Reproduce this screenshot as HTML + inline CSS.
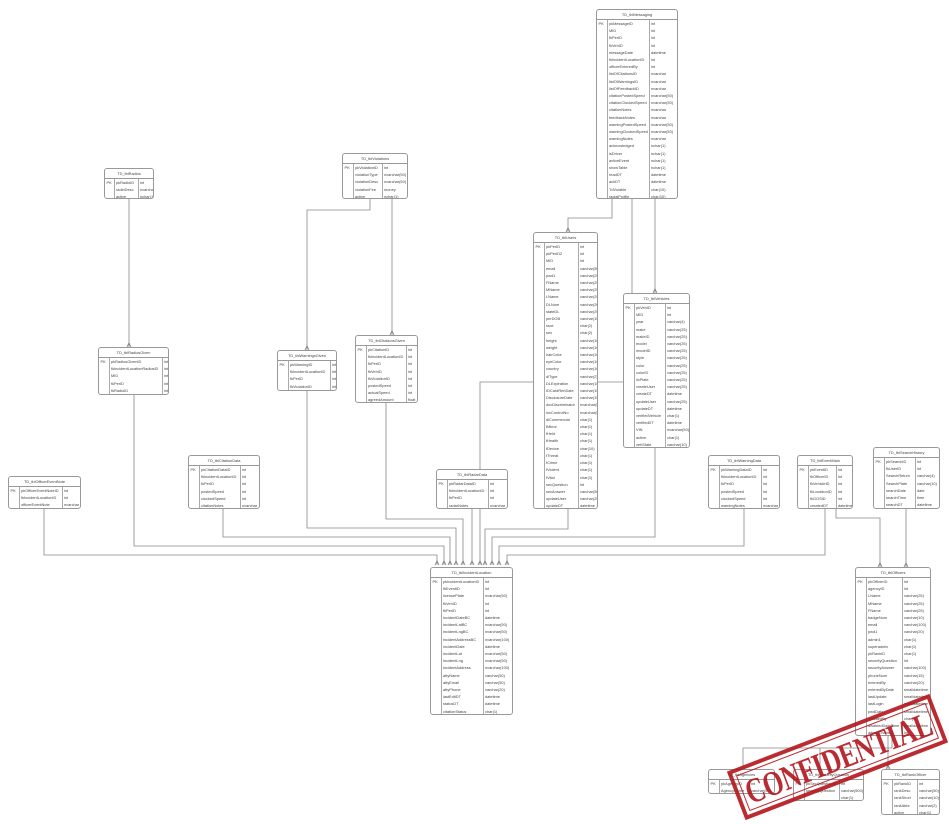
<!DOCTYPE html>
<html><head><meta charset="utf-8"><style>
body{margin:0;width:949px;height:824px;background:#fff;position:relative;overflow:hidden;font-family:"Liberation Sans",sans-serif}
.t{position:absolute;border:1px solid #999;border-radius:3px;background:#fff;color:#444;font-size:3.9px;box-sizing:border-box;overflow:hidden}
.h{height:9px;line-height:9px;text-align:center;border-bottom:1px solid #999}
.t table{border-collapse:collapse;width:100%;table-layout:fixed}
.t td{height:7.2px;line-height:7.2px;padding:0 0 0 1.5px;white-space:nowrap;overflow:hidden;vertical-align:middle}
.t td.pk{vertical-align:top;border-right:1px solid #aaa}
.t td.n{border-right:1px solid #aaa}
svg{position:absolute;left:0;top:0}
.stamp{position:absolute;left:729px;top:731px;width:217px;height:52px;transform:rotate(-21deg);border:4px solid #b3161c;color:#b3161c;box-sizing:border-box;opacity:.9}
.stamp div{position:absolute;left:3px;top:3px;right:3px;bottom:3px;border:1.5px solid #b3161c;white-space:nowrap}
.stamp span{position:absolute;left:50%;top:0;line-height:40px;font:bold 35px/40px "Liberation Serif",serif;transform:translateX(-50%) scaleX(0.74);letter-spacing:-0.5px;white-space:nowrap}
</style></head><body>
<svg width="949" height="824" fill="none" stroke="#888" stroke-width="0.8">
<path d="M612 198V218H568V232M632 198V382H480V565M655 198V293M568 508V529H485V565M655 447V537H492V565M744 508V546H499V565M825 508V555H507V565M129 198V347M370 198V210H307V350M392 198V335M134 394V546H444V565M44 508V555H437V565M223 508V537H450V565M307 390V528H456V565M386 402V519H463V565M472 508V565M836 508V518H880V567M906 508V567M888 735V769M743 769V748H892V735M820 748V769"/>
<g stroke="#777"><path d="M435 565l2-4 2 4M442 565l2-4 2 4M448 565l2-4 2 4M454 565l2-4 2 4M461 565l2-4 2 4M470 565l2-4 2 4M478 565l2-4 2 4M483 565l2-4 2 4M490 565l2-4 2 4M497 565l2-4 2 4M505 565l2-4 2 4M566 232l2-4 2 4M653 293l2-4 2 4M127 347l2-4 2 4M305 350l2-4 2 4M390 335l2-4 2 4M878 567l2-4 2 4M904 567l2-4 2 4M886 769l2-4 2 4"/></g>
</svg>

<div class="t" style="left:596px;top:9px;width:82px;height:190px"><div class="h">TD_tblMessaging</div><table><col style="width:10px"><col style="width:42px"><col>
<tr><td class="pk" rowspan="25">PK</td><td class="n">pkMessageID</td><td>int</td></tr>
<tr><td class="n">MID</td><td>int</td></tr><tr><td class="n">fkPerID</td><td>int</td></tr><tr><td class="n">fkVehID</td><td>int</td></tr>
<tr><td class="n">messageDate</td><td>datetime</td></tr><tr><td class="n">fkIncidentLocationID</td><td>int</td></tr><tr><td class="n">officerEnteredBy</td><td>int</td></tr>
<tr><td class="n">listOfCitationsID</td><td>nvarchar</td></tr><tr><td class="n">listOfWarningsID</td><td>nvarchar</td></tr><tr><td class="n">listOfFeedbackID</td><td>nvarchar</td></tr>
<tr><td class="n">citationPostedSpeed</td><td>nvarchar(50)</td></tr><tr><td class="n">citationClockedSpeed</td><td>nvarchar(50)</td></tr><tr><td class="n">citationNotes</td><td>nvarchar</td></tr>
<tr><td class="n">feedbackNotes</td><td>nvarchar</td></tr><tr><td class="n">warningPostedSpeed</td><td>nvarchar(50)</td></tr><tr><td class="n">warningClockedSpeed</td><td>nvarchar(50)</td></tr>
<tr><td class="n">warningNotes</td><td>nvarchar</td></tr><tr><td class="n">acknowledged</td><td>nchar(1)</td></tr><tr><td class="n">isDriver</td><td>nchar(1)</td></tr>
<tr><td class="n">activeEvent</td><td>nchar(1)</td></tr><tr><td class="n">showTable</td><td>nchar(1)</td></tr><tr><td class="n">readDT</td><td>datetime</td></tr>
<tr><td class="n">ackDT</td><td>datetime</td></tr><tr><td class="n">TdVoiable</td><td>char(10)</td></tr><tr><td class="n">racialProfile</td><td>char(10)</td></tr></table></div>

<div class="t" style="left:104px;top:168px;width:50px;height:31px"><div class="h">TD_tblRadios</div><table><col style="width:9px"><col style="width:24px"><col>
<tr><td class="pk" rowspan="3">PK</td><td class="n">pkRadioID</td><td>int</td></tr><tr><td class="n">radioDesc</td><td>nvarchar(50)</td></tr><tr><td class="n">active</td><td>nchar(1)</td></tr></table></div>

<div class="t" style="left:342px;top:153px;width:66px;height:46px"><div class="h">TD_tblViolations</div><table><col style="width:10px"><col style="width:29px"><col>
<tr><td class="pk" rowspan="5">PK</td><td class="n">pkViolationID</td><td>int</td></tr><tr><td class="n">violationType</td><td>nvarchar(50)</td></tr><tr><td class="n">violationDesc</td><td>nvarchar(50)</td></tr><tr><td class="n">violationFee</td><td>money</td></tr><tr><td class="n">active</td><td>nchar(1)</td></tr></table></div>

<div class="t" style="left:533px;top:232px;width:65px;height:277px"><div class="h">TD_tblUsers</div><table><col style="width:10px"><col style="width:34px"><col>
<tr><td class="pk" rowspan="37">PK</td><td class="n">pkPerID</td><td>int</td></tr>
<tr><td class="n">pkPerID2</td><td>int</td></tr><tr><td class="n">MID</td><td>int</td></tr><tr><td class="n">email</td><td>varchar(50)</td></tr><tr><td class="n">pwd1</td><td>varchar(250)</td></tr>
<tr><td class="n">FName</td><td>varchar(25)</td></tr><tr><td class="n">MName</td><td>varchar(25)</td></tr><tr><td class="n">LName</td><td>varchar(25)</td></tr><tr><td class="n">DLNum</td><td>varchar(20)</td></tr>
<tr><td class="n">stateDL</td><td>varchar(25)</td></tr><tr><td class="n">perDOB</td><td>varchar(15)</td></tr><tr><td class="n">race</td><td>char(2)</td></tr><tr><td class="n">sex</td><td>char(2)</td></tr>
<tr><td class="n">height</td><td>varchar(10)</td></tr><tr><td class="n">weight</td><td>varchar(10)</td></tr><tr><td class="n">hairColor</td><td>varchar(10)</td></tr><tr><td class="n">eyeColor</td><td>varchar(10)</td></tr>
<tr><td class="n">country</td><td>varchar(10)</td></tr><tr><td class="n">dlType</td><td>varchar(2)</td></tr><tr><td class="n">DLExpiration</td><td>varchar(15)</td></tr><tr><td class="n">IDCardRenDate</td><td>varchar(15)</td></tr>
<tr><td class="n">DisclosureDate</td><td>varchar(15)</td></tr><tr><td class="n">docDiscriminator</td><td>nvarchar(50)</td></tr><tr><td class="n">invControlNo</td><td>nvarchar(50)</td></tr><tr><td class="n">dlCommercial</td><td>char(1)</td></tr>
<tr><td class="n">fMinor</td><td>char(1)</td></tr><tr><td class="n">fHeld</td><td>char(1)</td></tr><tr><td class="n">fHealth</td><td>char(1)</td></tr><tr><td class="n">fDevice</td><td>char(10)</td></tr>
<tr><td class="n">fThreat</td><td>char(1)</td></tr><tr><td class="n">fCrime</td><td>char(1)</td></tr><tr><td class="n">fViolent</td><td>char(1)</td></tr><tr><td class="n">fVital</td><td>char(1)</td></tr>
<tr><td class="n">secQuestion</td><td>int</td></tr><tr><td class="n">secAnswer</td><td>varchar(50)</td></tr><tr><td class="n">updateUser</td><td>varchar(25)</td></tr><tr><td class="n">updateDT</td><td>datetime</td></tr></table></div>

<div class="t" style="left:623px;top:293px;width:67px;height:155px"><div class="h">TD_tblVehicles</div><table><col style="width:10px"><col style="width:31px"><col>
<tr><td class="pk" rowspan="20">PK</td><td class="n">pkVehID</td><td>int</td></tr>
<tr><td class="n">MID</td><td>int</td></tr><tr><td class="n">year</td><td>varchar(4)</td></tr><tr><td class="n">make</td><td>varchar(25)</td></tr><tr><td class="n">makeID</td><td>varchar(25)</td></tr>
<tr><td class="n">model</td><td>varchar(25)</td></tr><tr><td class="n">modelID</td><td>varchar(25)</td></tr><tr><td class="n">style</td><td>varchar(25)</td></tr><tr><td class="n">color</td><td>varchar(25)</td></tr>
<tr><td class="n">colorID</td><td>varchar(25)</td></tr><tr><td class="n">licPlate</td><td>varchar(25)</td></tr><tr><td class="n">createUser</td><td>varchar(25)</td></tr><tr><td class="n">createDT</td><td>datetime</td></tr>
<tr><td class="n">updateUser</td><td>varchar(25)</td></tr><tr><td class="n">updateDT</td><td>datetime</td></tr><tr><td class="n">verifiedVehicle</td><td>char(1)</td></tr><tr><td class="n">verifiedDT</td><td>datetime</td></tr>
<tr><td class="n">VIN</td><td>nvarchar(50)</td></tr><tr><td class="n">active</td><td>char(1)</td></tr><tr><td class="n">vehState</td><td>varchar(10)</td></tr></table></div>

<div class="t" style="left:98px;top:347px;width:71px;height:48px"><div class="h">TD_tblRadiosGiven</div><table><col style="width:10px"><col style="width:53px"><col>
<tr><td class="pk" rowspan="5">PK</td><td class="n">pkRadiosGivenID</td><td>int</td></tr><tr><td class="n">fkIncidentLocationRadiosID</td><td>int</td></tr><tr><td class="n">MID</td><td>int</td></tr><tr><td class="n">fkPerID</td><td>int</td></tr><tr><td class="n">fkRadioID</td><td>int</td></tr></table></div>

<div class="t" style="left:277px;top:350px;width:60px;height:41px"><div class="h">TD_tblWarningsGiven</div><table><col style="width:10px"><col style="width:42px"><col>
<tr><td class="pk" rowspan="4">PK</td><td class="n">pkWarningID</td><td>int</td></tr><tr><td class="n">fkIncidentLocationID</td><td>int</td></tr><tr><td class="n">fkPerID</td><td>int</td></tr><tr><td class="n">fkViolationID</td><td>int</td></tr></table></div>

<div class="t" style="left:355px;top:335px;width:63px;height:68px"><div class="h">TD_tblCitationsGiven</div><table><col style="width:10px"><col style="width:40px"><col>
<tr><td class="pk" rowspan="8">PK</td><td class="n">pkCitationID</td><td>int</td></tr><tr><td class="n">fkIncidentLocationID</td><td>int</td></tr><tr><td class="n">fkPerID</td><td>int</td></tr><tr><td class="n">fkVehID</td><td>int</td></tr>
<tr><td class="n">fkViolationID</td><td>int</td></tr><tr><td class="n">postedSpeed</td><td>int</td></tr><tr><td class="n">actualSpeed</td><td>int</td></tr><tr><td class="n">agreedAmount</td><td>float</td></tr></table></div>

<div class="t" style="left:8px;top:476px;width:73px;height:33px"><div class="h">TD_tblOfficerEventNote</div><table><col style="width:10px"><col style="width:43px"><col>
<tr><td class="pk" rowspan="3">PK</td><td class="n">pkOfficerEventNoteID</td><td>int</td></tr><tr><td class="n">fkIncidentLocationID</td><td>int</td></tr><tr><td class="n">officerEventNote</td><td>nvarchar</td></tr></table></div>

<div class="t" style="left:188px;top:455px;width:72px;height:54px"><div class="h">TD_tblCitationData</div><table><col style="width:10px"><col style="width:41px"><col>
<tr><td class="pk" rowspan="6">PK</td><td class="n">pkCitationDataID</td><td>int</td></tr><tr><td class="n">fkIncidentLocationID</td><td>int</td></tr><tr><td class="n">fkPerID</td><td>int</td></tr><tr><td class="n">postedSpeed</td><td>int</td></tr><tr><td class="n">clockedSpeed</td><td>int</td></tr><tr><td class="n">citationNotes</td><td>nvarchar</td></tr></table></div>

<div class="t" style="left:436px;top:469px;width:72px;height:40px"><div class="h">TD_tblRadarData</div><table><col style="width:10px"><col style="width:41px"><col>
<tr><td class="pk" rowspan="4">PK</td><td class="n">pkRadarDataID</td><td>int</td></tr><tr><td class="n">fkIncidentLocationID</td><td>int</td></tr><tr><td class="n">fkPerID</td><td>int</td></tr><tr><td class="n">radarNotes</td><td>nvarchar</td></tr></table></div>

<div class="t" style="left:708px;top:455px;width:72px;height:54px"><div class="h">TD_tblWarningData</div><table><col style="width:10px"><col style="width:42px"><col>
<tr><td class="pk" rowspan="6">PK</td><td class="n">pkWarningDataID</td><td>int</td></tr><tr><td class="n">fkIncidentLocationID</td><td>int</td></tr><tr><td class="n">fkPerID</td><td>int</td></tr><tr><td class="n">postedSpeed</td><td>int</td></tr><tr><td class="n">clockedSpeed</td><td>int</td></tr><tr><td class="n">warningNotes</td><td>nvarchar</td></tr></table></div>

<div class="t" style="left:797px;top:455px;width:56px;height:54px"><div class="h">TD_tblEventMain</div><table><col style="width:10px"><col style="width:28px"><col>
<tr><td class="pk" rowspan="6">PK</td><td class="n">pkEventID</td><td>int</td></tr><tr><td class="n">fkOfficerID</td><td>int</td></tr><tr><td class="n">fkVehicleID</td><td>int</td></tr><tr><td class="n">fkLocationID</td><td>int</td></tr><tr><td class="n">fkGOSID</td><td>int</td></tr><tr><td class="n">createdDT</td><td>datetime</td></tr></table></div>

<div class="t" style="left:873px;top:447px;width:67px;height:62px"><div class="h">TD_tblSearchHistory</div><table><col style="width:10px"><col style="width:31px"><col>
<tr><td class="pk" rowspan="7">PK</td><td class="n">pkSearchID</td><td>int</td></tr><tr><td class="n">fkUserID</td><td>int</td></tr><tr><td class="n">SearchReturn</td><td>varchar(4)</td></tr><tr><td class="n">SearchPlate</td><td>varchar(10)</td></tr><tr><td class="n">searchDate</td><td>date</td></tr><tr><td class="n">searchTime</td><td>time</td></tr><tr><td class="n">searchDT</td><td>datetime</td></tr></table></div>

<div class="t" style="left:430px;top:567px;width:83px;height:148px"><div class="h">TD_tblIncidentLocation</div><table><col style="width:10px"><col style="width:42px"><col>
<tr><td class="pk" rowspan="19">PK</td><td class="n">pkIncidentLocationID</td><td>int</td></tr>
<tr><td class="n">fkEventID</td><td>int</td></tr><tr><td class="n">licensePlate</td><td>nvarchar(50)</td></tr><tr><td class="n">fkVehID</td><td>int</td></tr><tr><td class="n">fkPerID</td><td>int</td></tr>
<tr><td class="n">incidentDateBC</td><td>datetime</td></tr><tr><td class="n">incidentLatBC</td><td>nvarchar(50)</td></tr><tr><td class="n">incidentLngBC</td><td>nvarchar(50)</td></tr><tr><td class="n">incidentAddressBC</td><td>nvarchar(100)</td></tr>
<tr><td class="n">incidentDate</td><td>datetime</td></tr><tr><td class="n">incidentLat</td><td>nvarchar(50)</td></tr><tr><td class="n">incidentLng</td><td>nvarchar(50)</td></tr><tr><td class="n">incidentAddress</td><td>nvarchar(100)</td></tr>
<tr><td class="n">attyName</td><td>varchar(50)</td></tr><tr><td class="n">attyEmail</td><td>varchar(50)</td></tr><tr><td class="n">attyPhone</td><td>varchar(20)</td></tr><tr><td class="n">lastEditDT</td><td>datetime</td></tr>
<tr><td class="n">statusDT</td><td>datetime</td></tr><tr><td class="n">citationStatus</td><td>char(1)</td></tr></table></div>

<div class="t" style="left:855px;top:567px;width:76px;height:169px"><div class="h">TD_tblOfficers</div><table><col style="width:10px"><col style="width:36px"><col>
<tr><td class="pk" rowspan="22">PK</td><td class="n">pkOfficerID</td><td>int</td></tr>
<tr><td class="n">agencyID</td><td>int</td></tr><tr><td class="n">LName</td><td>varchar(25)</td></tr><tr><td class="n">MName</td><td>varchar(25)</td></tr><tr><td class="n">FName</td><td>varchar(25)</td></tr>
<tr><td class="n">badgeNum</td><td>varchar(10)</td></tr><tr><td class="n">email</td><td>varchar(100)</td></tr><tr><td class="n">pwd1</td><td>varchar(20)</td></tr><tr><td class="n">admin1</td><td>char(1)</td></tr>
<tr><td class="n">superadmin</td><td>char(1)</td></tr><tr><td class="n">pkRankID</td><td>char(1)</td></tr><tr><td class="n">securityQuestion</td><td>int</td></tr><tr><td class="n">securityAnswer</td><td>varchar(100)</td></tr>
<tr><td class="n">phoneNum</td><td>varchar(15)</td></tr><tr><td class="n">enteredBy</td><td>varchar(20)</td></tr><tr><td class="n">enteredByDate</td><td>smalldatetime</td></tr><tr><td class="n">lastUpdate</td><td>smalldatetime</td></tr>
<tr><td class="n">lastLogin</td><td>smalldatetime</td></tr><tr><td class="n">pwdDate</td><td>smalldatetime</td></tr><tr><td class="n">updatedBy</td><td>char(1)</td></tr><tr><td class="n">disabledDateTime</td><td>smalldatetime</td></tr><tr><td class="n">adminEnabled</td><td>int</td></tr></table></div>

<div class="t" style="left:708px;top:769px;width:67px;height:25px"><div class="h">TD_tblAgencies</div><table><col style="width:10px"><col style="width:30px"><col>
<tr><td class="pk" rowspan="2">PK</td><td class="n">pkAgencyID</td><td>int</td></tr><tr><td class="n">AgencyName</td><td>varchar(50)</td></tr></table></div>

<div class="t" style="left:793px;top:769px;width:71px;height:32px"><div class="h">TD_tblSecurityQuestion</div><table><col style="width:10px"><col style="width:35px"><col>
<tr><td class="pk" rowspan="3">PK</td><td class="n">pkSecQuestionID</td><td>int</td></tr><tr><td class="n">securityQuestion</td><td>varchar(500)</td></tr><tr><td class="n"></td><td>char(1)</td></tr></table></div>

<div class="t" style="left:881px;top:769px;width:59px;height:46px"><div class="h">TD_tblRankOfficer</div><table><col style="width:10px"><col style="width:25px"><col>
<tr><td class="pk" rowspan="5">PK</td><td class="n">pkRankID</td><td>int</td></tr><tr><td class="n">rankDesc</td><td>varchar(50)</td></tr><tr><td class="n">rankShort</td><td>varchar(10)</td></tr><tr><td class="n">rankAbbr</td><td>varchar(2)</td></tr><tr><td class="n">active</td><td>char(1)</td></tr></table></div>

<div class="stamp"><div><span>CONFIDENTIAL</span></div></div>
</body></html>
